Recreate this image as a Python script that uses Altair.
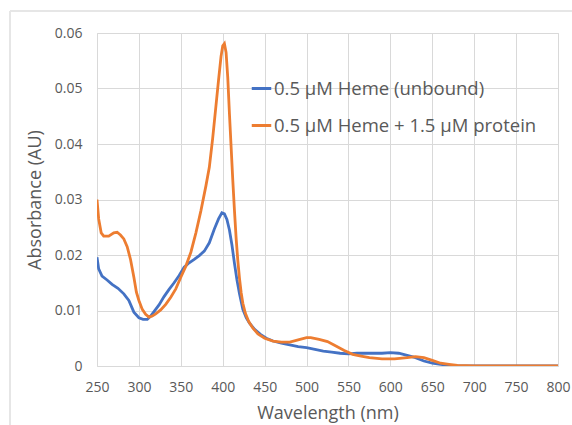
import altair as alt
import pandas as pd

wl_unbound = [250, 252, 256, 262, 268, 275, 282, 288, 294, 300, 305, 310, 314, 318, 324, 330, 336, 342, 348, 354,
              360, 366, 372, 378, 384, 390, 395, 399, 402, 405, 408, 411, 414, 417, 420, 424, 428, 432, 438, 445,
              452, 460, 470, 480, 490, 500, 510, 520, 530, 540, 550, 560, 570, 580, 590, 600, 610, 620, 630, 640,
              650, 660, 670, 680, 700, 750, 800]
abs_unbound = [0.0196, 0.0175, 0.0162, 0.0155, 0.0147, 0.0140, 0.0130, 0.0118, 0.0097, 0.0087, 0.0084, 0.0084,
               0.0090, 0.0098, 0.0110, 0.0125, 0.0138, 0.0150, 0.0163, 0.0178, 0.0186, 0.0192, 0.0199, 0.0207,
               0.0222, 0.0247, 0.0265, 0.0276, 0.0274, 0.0264, 0.0245, 0.0218, 0.0185, 0.0155, 0.0130, 0.0102,
               0.0087, 0.0077, 0.0066, 0.0057, 0.0050, 0.0045, 0.0041, 0.0038, 0.0035, 0.0033, 0.0030, 0.0027,
               0.0025, 0.0023, 0.0022, 0.0023, 0.0023, 0.0023, 0.0023, 0.0024, 0.0023, 0.0019, 0.0015, 0.0009,
               0.0005, 0.0003, 0.0001, 0.0000, 0.0000, 0.0000, 0.0000]

wl_bound = [250, 252, 255, 258, 264, 270, 274, 278, 282, 286, 290, 294, 297, 300, 304, 308, 312, 316, 320, 326,
            332, 338, 344, 350, 356, 362, 368, 374, 380, 384, 388, 392, 395, 398, 400, 402, 404, 406, 408, 410,
            412, 414, 416, 418, 420, 422, 424, 427, 431, 436, 442, 450, 460, 470, 480, 490, 500, 505, 515, 525,
            535, 545, 555, 565, 575, 590, 605, 620, 630, 640, 650, 660, 670, 680, 700, 750, 800]
abs_bound = [0.0300, 0.0265, 0.0240, 0.0234, 0.0234, 0.0240, 0.0241, 0.0236, 0.0229, 0.0215, 0.0192, 0.0160,
             0.0133, 0.0118, 0.0102, 0.0093, 0.0088, 0.0090, 0.0094, 0.0101, 0.0111, 0.0124, 0.0139, 0.0160,
             0.0180, 0.0205, 0.0240, 0.0280, 0.0325, 0.0358, 0.0410, 0.0470, 0.0515, 0.0558, 0.0577, 0.0581,
             0.0565, 0.0520, 0.0455, 0.0395, 0.0335, 0.0280, 0.0230, 0.0190, 0.0158, 0.0132, 0.0113, 0.0095,
             0.0080, 0.0068, 0.0058, 0.0050, 0.0045, 0.0043, 0.0043, 0.0047, 0.0051, 0.0051, 0.0048, 0.0044,
             0.0036, 0.0028, 0.0021, 0.0018, 0.0015, 0.0013, 0.0013, 0.0015, 0.0017, 0.0015, 0.0010, 0.0005,
             0.0003, 0.0001, 0.0000, 0.0000, 0.0000]

series_names = ["0.5 µM Heme (unbound)", "0.5 µM Heme + 1.5 µM protein"]
series_colors = ["#4472C4", "#ED7D31"]
x_ticks = [250, 300, 350, 400, 450, 500, 550, 600, 650, 700, 750, 800]
y_ticks = [0, 0.01, 0.02, 0.03, 0.04, 0.05, 0.06]

rows = []
for i, (w, a) in enumerate(zip(wl_unbound, abs_unbound)):
    rows.append({"wl": w, "abs": a, "series": series_names[0], "ord": i})
for i, (w, a) in enumerate(zip(wl_bound, abs_bound)):
    rows.append({"wl": w, "abs": a, "series": series_names[1], "ord": i})
df = pd.DataFrame(rows)

FONT = "Open Sans"
GRAY = "#595959"

lines = alt.Chart(df).mark_line(strokeWidth=2.8, clip=True).encode(
    x=alt.X("wl:Q", scale=alt.Scale(domain=[250, 800], nice=False, zero=False),
            axis=alt.Axis(values=x_ticks, title="Wavelength (nm)", grid=True, gridColor="#d9d9d9",
                          domain=False, ticks=False, labelFontSize=14, labelColor=GRAY, labelPadding=14,
                          labelFlush=False, labelOverlap=False,
                          titleFontSize=18, titleColor=GRAY, titleFontWeight="normal", titlePadding=10,
                          labelFont=FONT, titleFont=FONT)),
    y=alt.Y("abs:Q", scale=alt.Scale(domain=[0, 0.06], nice=False),
            axis=alt.Axis(values=y_ticks, title="Absorbance (AU)", grid=True, gridColor="#d9d9d9",
                          domain=False, ticks=False, labelFontSize=14, labelColor=GRAY, labelPadding=15,
                          titleFontSize=18, titleColor=GRAY, titleFontWeight="normal", titlePadding=10,
                          labelFont=FONT, titleFont=FONT, labelFlush=False,
                          labelExpr="datum.value == 0 ? '0' : format(datum.value, '.2f')")),
    color=alt.Color("series:N", scale=alt.Scale(domain=series_names, range=series_colors),
                    legend=alt.Legend(title=None, orient="none", legendX=153, legendY=44,
                                      symbolType="stroke", symbolSize=380, symbolStrokeWidth=3,
                                      labelFontSize=18.5, labelColor=GRAY, labelFont=FONT,
                                      rowPadding=16, labelOffset=1, labelLimit=400)),
    order="ord:Q",
)

frame_top = alt.Chart(df).mark_rule(color="#e6e6e6", strokeWidth=1.5).encode(
    x=alt.value(-87), x2=alt.value(480), y=alt.value(-22))
frame_left = alt.Chart(df).mark_rule(color="#e6e6e6", strokeWidth=1.5).encode(
    x=alt.value(-87), y=alt.value(-22), y2=alt.value(400))

chart = alt.layer(frame_top, frame_left, lines).properties(
    width=461, height=333,
    padding={"left": 97, "top": 33, "right": 14, "bottom": 59},
    autosize=alt.AutoSizeParams(type="none"),
).configure_view(stroke=None).configure(background="white")

chart.save("out.html", embed_options={"renderer": "svg", "actions": False})
